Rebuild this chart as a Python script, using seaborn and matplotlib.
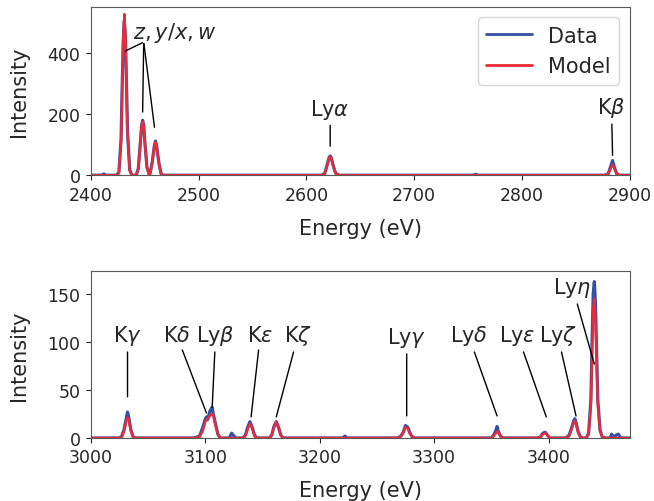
import numpy as np
import matplotlib
matplotlib.use("Agg")
import matplotlib.pyplot as plt
import seaborn as sns

# top panel: 2400-2900 eV
top_energy = [2400, 2410, 2411, 2412, 2414,
              2424, 2426, 2428, 2429, 2430, 2431, 2432, 2433, 2434, 2436, 2438,
              2442, 2444, 2446, 2447, 2448, 2449, 2450, 2452, 2454,
              2455, 2457, 2459, 2460, 2461, 2463, 2465, 2467,
              2500, 2600, 2614, 2617, 2619, 2621, 2622, 2623, 2625, 2627, 2630,
              2755, 2757, 2759,
              2877, 2880, 2882, 2884, 2886, 2888, 2891, 2900]
top_data = [0, 0, 2, 4, 0,
            0, 10, 120, 290, 440, 505, 455, 300, 140, 18, 0,
            0, 22, 112, 162, 180, 163, 112, 26, 3,
            6, 46, 100, 112, 96, 42, 6, 0,
            0, 0, 0, 6, 32, 58, 63, 57, 29, 7, 0,
            0, 3, 0,
            0, 5, 26, 48, 22, 4, 0, 0]
top_model = [0, 0, 0, 0, 0,
             0, 8, 110, 285, 450, 528, 460, 295, 132, 15, 0,
             0, 20, 108, 160, 176, 160, 108, 24, 2,
             5, 44, 98, 108, 94, 40, 5, 0,
             0, 0, 0, 5, 30, 56, 61, 55, 28, 6, 0,
             0, 0, 0,
             0, 4, 20, 35, 19, 3, 0, 0]

# bottom panel: 3000-3470 eV
bot_energy = [3000, 3025, 3027, 3029, 3031, 3032, 3033, 3035, 3037, 3039,
              3090, 3095, 3098, 3100, 3101, 3102, 3104, 3106, 3107, 3109, 3111, 3113,
              3121, 3123, 3125, 3127,
              3133, 3135, 3137, 3139, 3141, 3143, 3145,
              3156, 3158, 3160, 3162, 3164, 3166, 3168,
              3220, 3222, 3224,
              3268, 3271, 3273, 3275, 3277, 3279, 3281, 3283,
              3350, 3352, 3354, 3355, 3356, 3358, 3360,
              3390, 3393, 3395, 3397, 3399, 3401,
              3415, 3418, 3420, 3422, 3423, 3424, 3426, 3428, 3430,
              3433, 3435, 3437, 3438, 3439, 3440, 3441, 3442, 3443, 3445, 3447, 3450,
              3454, 3455, 3457, 3459, 3461, 3463, 3471]
bot_data = [0, 0, 2, 9, 21, 27, 22, 8, 1, 0,
            0, 2, 12, 20, 22, 19, 28, 32, 25, 14, 4, 0,
            0, 5, 2, 0,
            0, 3, 11, 17, 11, 3, 0,
            0, 3, 12, 17, 11, 3, 0,
            0, 2, 0,
            0, 2, 6, 13, 11, 5, 1, 0,
            0, 3, 8, 12, 7, 2, 0,
            0, 1, 5, 6, 3, 0,
            0, 3, 10, 18, 20, 16, 6, 1, 0,
            0, 5, 40, 100, 150, 163, 140, 90, 40, 8, 1, 0,
            0, 4, 1, 3, 4, 0, 0]
bot_model = [0, 0, 1, 7, 18, 21, 19, 7, 1, 0,
             0, 1, 8, 17, 19, 20, 23, 25, 24, 13, 4, 0,
             0, 0, 0, 0,
             0, 2, 9, 15, 10, 2, 0,
             0, 3, 11, 17, 11, 3, 0,
             0, 0, 0,
             0, 2, 6, 11, 10, 4, 1, 0,
             0, 2, 5, 7, 6, 2, 0,
             0, 1, 4, 5, 3, 0,
             0, 2, 9, 16, 18, 15, 5, 1, 0,
             0, 4, 35, 90, 135, 145, 125, 80, 35, 7, 1, 0,
             0, 0, 0, 0, 0, 0, 0]

# line labels: (text, peak x, peak y, text x, text y)
top_labels = [("Ly$\\alpha$", 2622, 95, 2622, 218),
              ("K$\\beta$", 2884, 65, 2883, 222)]
bot_labels = [("K$\\gamma$", 3032, 43, 3032, 107),
              ("K$\\delta$", 3101, 26, 3075, 107),
              ("Ly$\\beta$", 3106, 32, 3109, 107),
              ("K$\\epsilon$", 3140, 22, 3148, 107),
              ("K$\\zeta$", 3162, 22, 3181, 107),
              ("Ly$\\gamma$", 3276, 23, 3276, 105),
              ("Ly$\\delta$", 3355, 23, 3330, 107),
              ("Ly$\\epsilon$", 3398, 22, 3373, 107),
              ("Ly$\\zeta$", 3424, 23, 3408, 107),
              ("Ly$\\eta$", 3440, 77, 3421, 157)]

sns.set_style("ticks")
plt.rcParams["font.family"] = ["DejaVu Sans"]
plt.rcParams["mathtext.fontset"] = "dejavusans"

blue = "#3250a6"
red = "#ee2a35"

fig = plt.figure(figsize=(6.54, 5.02), dpi=100)
ax1 = fig.add_axes([0.139, 0.649, 0.824, 0.335])
ax2 = fig.add_axes([0.139, 0.1255, 0.824, 0.3325])

sns.lineplot(x=top_energy, y=top_data, ax=ax1, color=blue, lw=2.3, label="Data")
sns.lineplot(x=top_energy, y=top_model, ax=ax1, color=red, lw=1.7, label="Model")
sns.lineplot(x=bot_energy, y=bot_data, ax=ax2, color=blue, lw=2.3)
sns.lineplot(x=bot_energy, y=bot_model, ax=ax2, color=red, lw=1.7)

ax1.set_xlim(2400, 2900)
ax1.set_ylim(0, 551)
ax1.set_yticks([0, 200, 400])
ax2.set_xlim(3000, 3471)
ax2.set_ylim(0, 174)
ax2.set_yticks([0, 50, 100, 150])

arrow = dict(arrowstyle="-", color="k", lw=1, shrinkA=1, shrinkB=0)

# the He-like triplet shares one label
ax1.text(2478, 469, "$z, y/x, w$", fontsize=15, ha="center", va="center")
for px, py in [(2432, 407), (2448, 207), (2459, 157)]:
    ax1.annotate("", xy=(px, py), xytext=(2449, 436), arrowprops=arrow)

for ax, labels in [(ax1, top_labels), (ax2, bot_labels)]:
    for txt, px, py, tx, ty in labels:
        ax.annotate(txt, xy=(px, py), xytext=(tx, ty), fontsize=15,
                    ha="center", va="center", arrowprops=arrow)

for ax in (ax1, ax2):
    ax.set_xlabel("Energy (eV)", fontsize=15, labelpad=10)
    ax.set_ylabel("Intensity", fontsize=15, labelpad=13)
    ax.tick_params(labelsize=12.5, pad=4)
    for s in ax.spines.values():
        s.set_color("0.35")

leg = ax1.legend(loc="upper right", fontsize=15, handlelength=2.2)
for h in leg.get_lines():
    h.set_linewidth(2)

fig.savefig("out.png", dpi=100)
